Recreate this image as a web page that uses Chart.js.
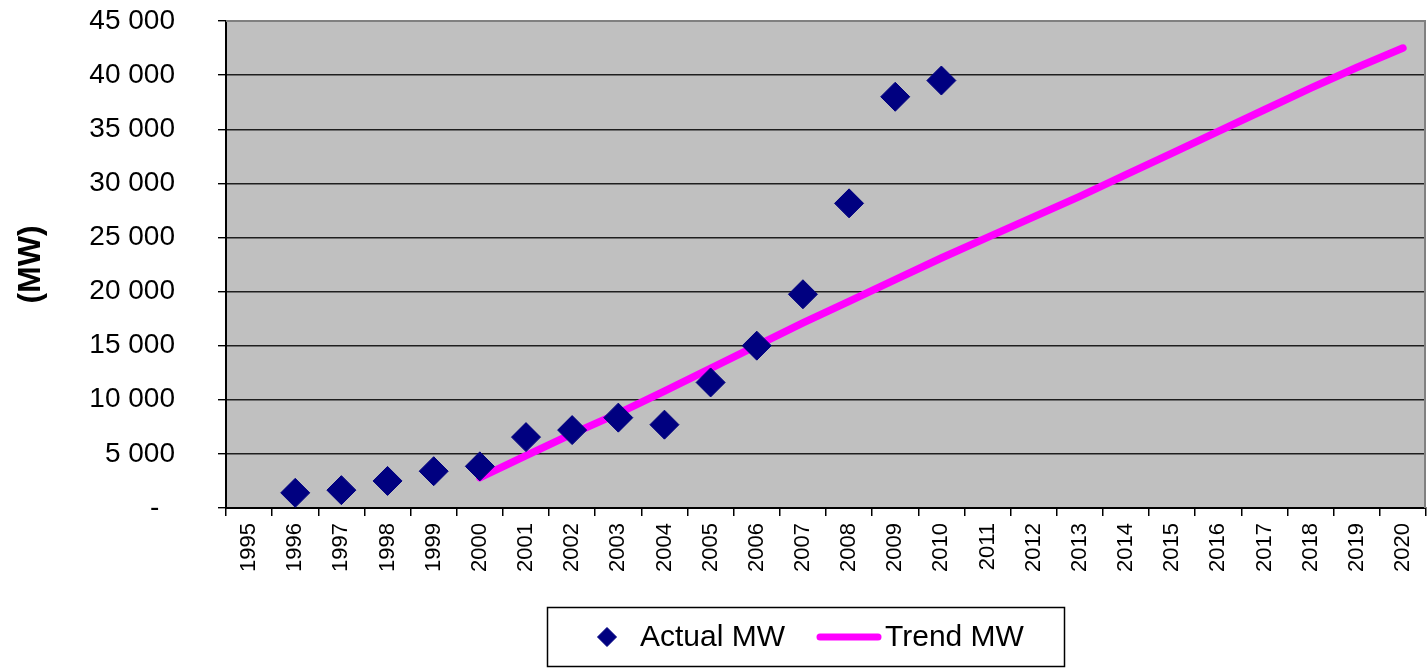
<!DOCTYPE html>
<html>
<head>
<meta charset="utf-8">
<title>Installed capacity (MW)</title>
<script src="https://cdn.jsdelivr.net/npm/chart.js@4/dist/chart.umd.min.js"></script>
<style>
  html, body { margin: 0; padding: 0; background: #ffffff; overflow: hidden; }
  canvas { display: block; }
</style>
</head>
<body>
<canvas id="chart" width="1427" height="670"></canvas>
<script>
// Years on the category axis
const years = ['1995', '1996', '1997', '1998', '1999', '2000', '2001', '2002', '2003',
  '2004', '2005', '2006', '2007', '2008', '2009', '2010', '2011', '2012', '2013',
  '2014', '2015', '2016', '2017', '2018', '2019', '2020'];

// Recorded capacity, MW
const actualMW = [null, 1400, 1650, 2500, 3400, 3850, 6550, 7200, 8350, 7700,
  11600, 15000, 19750, 28150, 38000, 39500,
  null, null, null, null, null, null, null, null, null, null];

// Trend projection, MW
const trendMW = [null, null, null, null, null, 2800, 4850, 6850, 8750, 10800,
  12900, 15000, 17100, 19100, 21100, 23100, 25000, 26900, 28800, 30800,
  32800, 34800, 36800, 38800, 40700, 42500];

// Value axis ticks
const yTickValues = [0, 5000, 10000, 15000, 20000, 25000, 30000, 35000, 40000, 45000];

const seriesNames = ['Actual MW', 'Trend MW'];
const FONT = '"Liberation Sans", Arial, sans-serif';

function formatMW(v) {
  if (v === 0) return '-  ';
  return String(v).replace(/\B(?=(\d{3})+(?!\d))/g, ' ');
}

// Axis boxes keep no extra edge padding so the plot spans the full width
function noEdgePadding(scale) {
  scale.paddingLeft = 0;
  scale.paddingRight = 0;
  scale.paddingTop = 0;
  scale.paddingBottom = 0;
}

// Grey plot background plus the top/right frame
const plotFrame = {
  id: 'plotFrame',
  beforeDraw(chart) {
    const { ctx, chartArea: a } = chart;
    ctx.save();
    ctx.fillStyle = '#c0c0c0';
    ctx.fillRect(a.left, a.top, a.right - a.left, a.bottom - a.top);
    ctx.restore();
  },
  beforeDatasetsDraw(chart) {
    const { ctx, chartArea: a } = chart;
    ctx.save();
    ctx.strokeStyle = '#808080';
    ctx.lineWidth = 2;
    ctx.beginPath();
    ctx.moveTo(a.left, a.top);
    ctx.lineTo(a.right - 1, a.top);
    ctx.lineTo(a.right - 1, a.bottom);
    ctx.stroke();
    ctx.restore();
  }
};

// Boxed legend under the axis
const boxedLegend = {
  id: 'boxedLegend',
  afterDraw(chart) {
    const ctx = chart.ctx;
    const ds = chart.data.datasets;
    const box = { x: 547, y: 607, w: 518, h: 60 };
    const cy = box.y + box.h / 2;
    ctx.save();
    ctx.fillStyle = '#ffffff';
    ctx.fillRect(box.x, box.y, box.w, box.h);
    ctx.strokeStyle = '#000000';
    ctx.lineWidth = 1.5;
    ctx.strokeRect(box.x + 0.5, box.y + 0.5, box.w - 1, box.h - 1);

    // marker for the recorded series
    ctx.fillStyle = ds[0].backgroundColor;
    ctx.strokeStyle = ds[0].borderColor;
    ctx.lineWidth = 1;
    Chart.helpers.drawPoint(ctx, { pointStyle: 'rectRot', radius: 9.5, borderWidth: 1 }, box.x + 60, cy);

    ctx.fillStyle = '#000000';
    ctx.font = '30px ' + FONT;
    ctx.textBaseline = 'middle';
    ctx.textAlign = 'left';
    ctx.fillText(ds[0].label, box.x + 93, cy + 1);

    // line sample for the trend series
    ctx.strokeStyle = ds[1].borderColor;
    ctx.lineWidth = 7;
    ctx.lineCap = 'round';
    ctx.beginPath();
    ctx.moveTo(box.x + 273, cy);
    ctx.lineTo(box.x + 331, cy);
    ctx.stroke();

    ctx.fillStyle = '#000000';
    ctx.fillText(ds[1].label, box.x + 338, cy + 1);
    ctx.restore();
  }
};

new Chart(document.getElementById('chart'), {
  type: 'line',
  data: {
    labels: years,
    datasets: [
      {
        label: seriesNames[0],
        data: actualMW,
        showLine: false,
        pointStyle: 'rectRot',
        pointRadius: 14.5,
        pointHoverRadius: 14.5,
        pointBorderWidth: 1,
        backgroundColor: '#000080',
        borderColor: '#000080'
      },
      {
        label: seriesNames[1],
        data: trendMW,
        borderColor: '#ff00ff',
        backgroundColor: '#ff00ff',
        borderWidth: 7.5,
        borderCapStyle: 'round',
        borderJoinStyle: 'round',
        pointRadius: 0,
        pointHoverRadius: 0,
        tension: 0,
        fill: false
      }
    ]
  },
  options: {
    responsive: false,
    animation: false,
    events: [],
    layout: { autoPadding: false, padding: { top: 21, right: 1, left: 0, bottom: 0 } },
    plugins: {
      legend: { display: false },
      tooltip: { enabled: false },
      title: { display: false }
    },
    scales: {
      x: {
        type: 'category',
        offset: true,
        grid: {
          offset: true,
          drawOnChartArea: false,
          drawTicks: true,
          tickLength: 8,
          tickColor: '#000000',
          lineWidth: 1.5
        },
        border: { display: true, color: '#000000', width: 2 },
        ticks: {
          autoSkip: false,
          minRotation: 90,
          maxRotation: 90,
          padding: 7,
          color: '#000000',
          font: { family: FONT, size: 22 }
        },
        afterFit(scale) {
          scale.height = 162;
          noEdgePadding(scale);
        }
      },
      y: {
        min: yTickValues[0],
        max: yTickValues[yTickValues.length - 1],
        afterBuildTicks(scale) {
          scale.ticks = yTickValues.map(v => ({ value: v }));
        },
        grid: {
          color: ctx => (ctx.tick && ctx.tick.value === yTickValues[yTickValues.length - 1]) ? '#808080' : '#1e1e1e',
          lineWidth: 1.4,
          tickLength: 8,
          tickColor: '#000000',
          drawTicks: true
        },
        border: { display: true, color: '#000000', width: 2 },
        ticks: {
          padding: 43,
          color: '#000000',
          font: { family: FONT, size: 28 },
          callback: v => formatMW(v)
        },
        title: {
          display: true,
          text: '(MW)',
          color: '#000000',
          font: { family: FONT, size: 32, weight: 'bold' },
          padding: { top: 12, bottom: 0 }
        },
        afterFit(scale) {
          scale.width = 226;
          noEdgePadding(scale);
        }
      }
    }
  },
  plugins: [plotFrame, boxedLegend]
});
</script>
</body>
</html>
